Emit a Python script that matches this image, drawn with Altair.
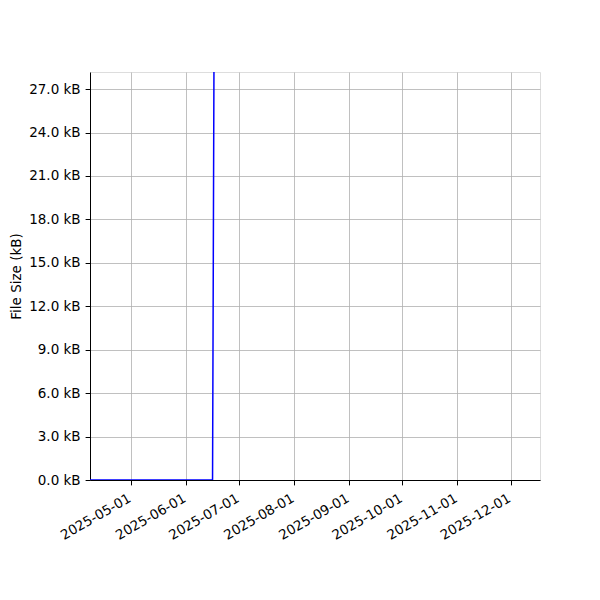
import altair as alt
import pandas as pd

dates = ["2025-04-01T00:00:00", "2025-06-16T00:00:00", "2025-06-17T00:00:00", "2025-12-31T00:00:00"]
sizes_kb = [0.0, 0.0, 36.0, 36.0]
y_ticks = [0, 3, 6, 9, 12, 15, 18, 21, 24, 27]
x_ticks = ["2025-05-01", "2025-06-01", "2025-07-01", "2025-08-01",
           "2025-09-01", "2025-10-01", "2025-11-01", "2025-12-01"]

df = pd.DataFrame({"date": dates, "size": sizes_kb})

x_vals = [alt.DateTime(year=int(d[:4]), month=int(d[5:7]), date=int(d[8:10])) for d in x_ticks]

font = "DejaVu Sans"
fs = 13.5

line = alt.Chart(df).mark_line(color="blue", strokeWidth=1.5, clip=True).encode(
    x=alt.X("date:T",
            scale=alt.Scale(domain=[alt.DateTime(year=2025, month=4, date=7, hours=22),
                                    alt.DateTime(year=2025, month=12, date=17, hours=14)], nice=False),
            axis=alt.Axis(values=x_vals, format="%Y-%m-%d", labelAngle=-30, labelAlign="right",
                          labelBaseline="top", title=None, grid=True, gridColor="#b0b0b0",
                          gridWidth=0.8, domainColor="black", tickColor="black", tickSize=4.9,
                          labelFont=font, labelFontSize=fs, labelColor="black", labelPadding=6,
                          labelOffset=-5, labelOverlap=False, labelFlush=False)),
    y=alt.Y("size:Q",
            scale=alt.Scale(domain=[0, 28.18], nice=False, zero=False),
            axis=alt.Axis(values=y_ticks, labelExpr="format(datum.value, '.1f') + ' kB'",
                          title="File Size (kB)", titleFont=font, titleFontSize=fs,
                          titleFontWeight="normal", titleColor="black", titlePadding=5,
                          grid=True, gridColor="#b0b0b0", gridWidth=0.8, domainColor="black",
                          tickColor="black", tickSize=4.9, labelFont=font, labelFontSize=fs,
                          labelColor="black", labelPadding=5)),
)

chart = line.properties(
    width=450, height=408,
    autosize=alt.AutoSizeParams(type="none"),
    padding={"left": 82, "top": 64, "right": 52, "bottom": 112},
).configure_view(stroke="black", strokeWidth=1).configure(background="white")

chart.save("out.html", embed_options={"renderer": "svg", "actions": False})
